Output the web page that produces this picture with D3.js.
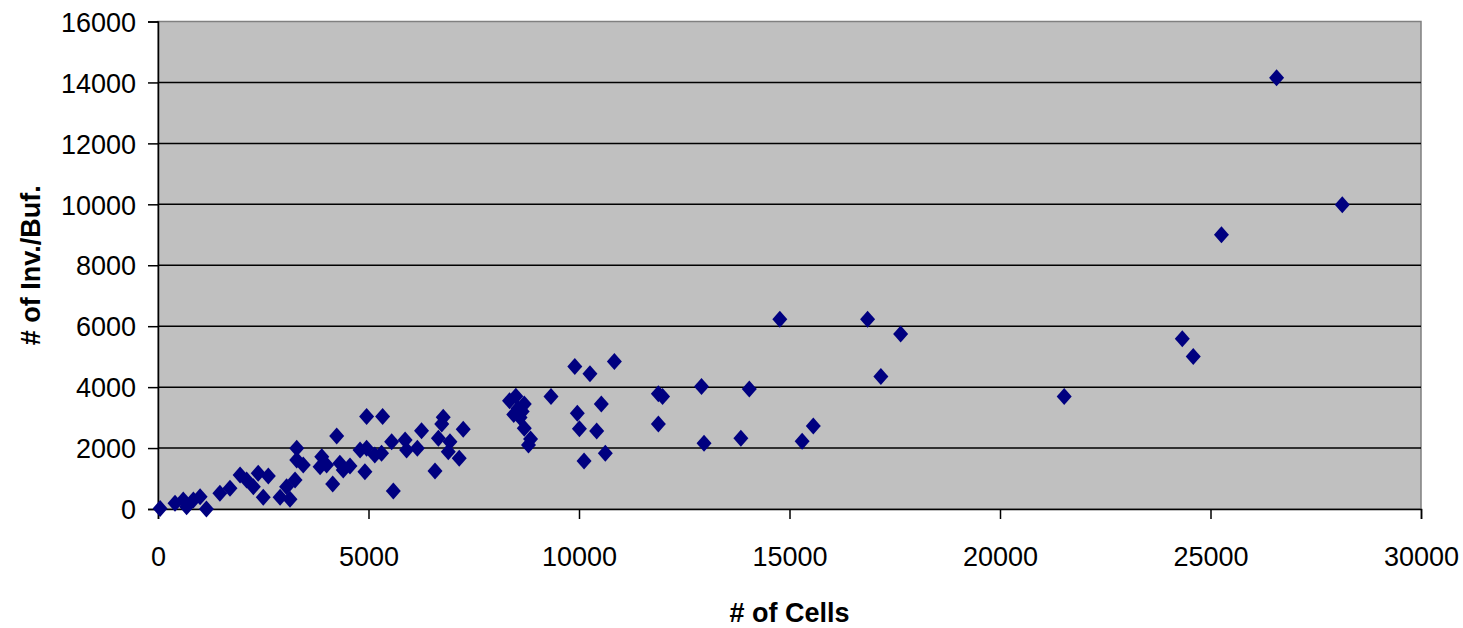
<!DOCTYPE html>
<html>
<head>
<meta charset="utf-8">
<script src="https://cdn.jsdelivr.net/npm/d3@7"></script>
<style>
  body { margin: 0; background: #fff; }
  svg text { font-family: "Liberation Sans", Arial, sans-serif; fill: #000; }
</style>
</head>
<body>
<div id="chart"></div>
<script>
// # of Cells vs # of Inv./Buf.
var cells = [
  50, 404, 600, 680, 840, 1000, 1150, 1470, 1710, 1950,
  2105, 2265, 2380, 2500, 2620, 2900, 3055, 3135, 3255, 3295,
  3295, 3450, 3850, 3890, 4005, 4150, 4245, 4320, 4400, 4560,
  4800, 4915, 4955, 4955, 5150, 5310, 5335, 5550, 5590, 5870,
  5905, 6160, 6260, 6580, 6660, 6740, 6775, 6895, 6935, 7155,
  7250, 8350, 8500, 8700, 8450, 8600, 8700, 8850, 8800, 8550,
  8650, 9335, 9900, 10260, 10840, 9960, 10010, 10120, 10530, 10420,
  10625, 11885, 11985, 11885, 12910, 12970, 14045, 13845, 15300, 15565,
  14770, 16855, 17640, 17170, 21525, 24330, 24590, 25260, 26570, 28130
];
var invBuf = [
  20, 187, 296, 75, 296, 404, 0, 516, 680, 1117,
  953, 733, 1173, 384, 1084, 384, 733, 319, 953, 1994,
  1610, 1445, 1390, 1718, 1445, 820, 2398, 1500, 1280, 1412,
  1938, 1225, 3032, 1994, 1774, 1830, 3032, 2211, 591, 2267,
  1938, 1994, 2572, 1248, 2322, 2792, 3012, 1882, 2211, 1665,
  2618, 3550, 3700, 3450, 3100, 3000, 2650, 2300, 2100, 3300,
  3200, 3690, 4675, 4435, 4840, 3140, 2630, 1575, 3450, 2560,
  1830, 3780, 3690, 2790, 4020, 2155, 3940, 2320, 2225, 2725,
  6230, 6230, 5740, 4345, 3690, 5585, 5005, 9000, 14150, 9985
];
var xTicks = [0, 5000, 10000, 15000, 20000, 25000, 30000];
var yTicks = [0, 2000, 4000, 6000, 8000, 10000, 12000, 14000, 16000];

var width = 1463, height = 628;
var margin = { left: 158, top: 21.5, right: 42, bottom: 119 };

var svg = d3.select("#chart").append("svg")
  .attr("width", width)
  .attr("height", height);

var x = d3.scaleLinear().domain([0, 30000]).range([margin.left, width - margin.right]);
var y = d3.scaleLinear().domain([0, 16000]).range([height - margin.bottom, margin.top]);

// plot background
svg.append("rect")
  .attr("x", x(0))
  .attr("y", y(16000))
  .attr("width", x(30000) - x(0))
  .attr("height", y(0) - y(16000))
  .attr("fill", "#c0c0c0")
  .attr("stroke", "#808080")
  .attr("stroke-width", 1.5);

// horizontal gridlines
svg.append("g")
  .selectAll("line")
  .data(yTicks.slice(1, -1))
  .enter()
  .append("line")
  .attr("x1", x(0))
  .attr("x2", x(30000))
  .attr("y1", d => y(d))
  .attr("y2", d => y(d))
  .attr("stroke", "#000")
  .attr("stroke-width", 1.5);

// axes
var yAxis = svg.append("g")
  .attr("transform", "translate(" + x(0) + ",0)")
  .call(d3.axisLeft(y).tickValues(yTicks).tickSize(10).tickPadding(12).tickFormat(d3.format("d")));

var xAxis = svg.append("g")
  .attr("transform", "translate(0," + y(0) + ")")
  .call(d3.axisBottom(x).tickValues(xTicks).tickSize(10).tickPadding(28).tickFormat(d3.format("d")));

[yAxis, xAxis].forEach(function (g) {
  g.select(".domain").attr("stroke", "#000").attr("stroke-width", 1.5);
  g.selectAll(".tick line").attr("stroke", "#000").attr("stroke-width", 1.5);
  g.selectAll(".tick text")
    .attr("font-family", "Liberation Sans, Arial, sans-serif")
    .attr("font-size", 27)
    .attr("fill", "#000");
});
yAxis.selectAll(".tick text").attr("dy", "0.36em");

// diamond markers
var diamond = {
  draw: function (ctx, size) {
    var w = 7.5, h = 8.5;
    ctx.moveTo(0, -h);
    ctx.lineTo(w, 0);
    ctx.lineTo(0, h);
    ctx.lineTo(-w, 0);
    ctx.closePath();
  }
};

svg.append("g")
  .selectAll("path")
  .data(cells.map((c, i) => ({ x: c, y: invBuf[i] })))
  .enter()
  .append("path")
  .attr("d", d3.symbol().type(diamond))
  .attr("transform", d => "translate(" + x(d.x) + "," + y(d.y) + ")")
  .attr("fill", "#000080");

// axis titles
svg.append("text")
  .attr("x", (x(0) + x(30000)) / 2)
  .attr("y", 622)
  .attr("text-anchor", "middle")
  .attr("font-size", 27)
  .attr("font-weight", "bold")
  .text("# of Cells");

svg.append("text")
  .attr("transform", "translate(40," + (y(0) + y(16000)) / 2 + ") rotate(-90)")
  .attr("text-anchor", "middle")
  .attr("font-size", 27)
  .attr("font-weight", "bold")
  .text("# of Inv./Buf.");
</script>
</body>
</html>
